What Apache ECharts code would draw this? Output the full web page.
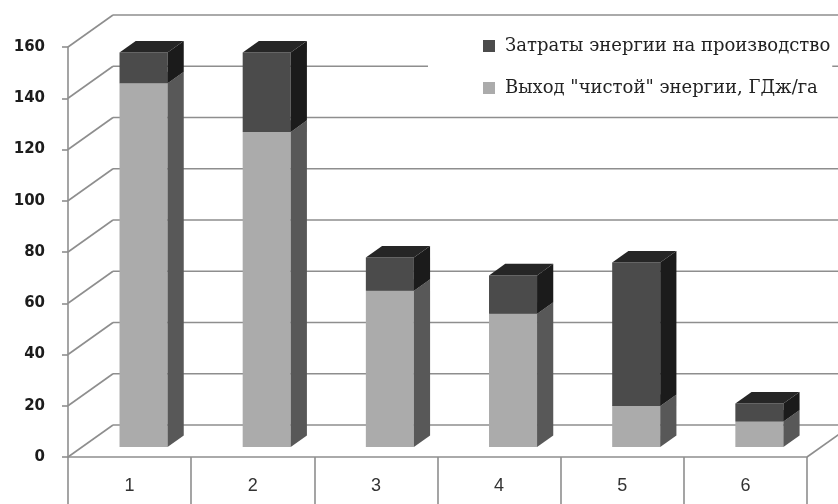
<!DOCTYPE html>
<html>
<head>
<meta charset="utf-8">
<script src="https://cdn.jsdelivr.net/npm/echarts@6/dist/echarts.min.js"></script>
<style>
  html, body { margin: 0; padding: 0; background: #fff; }
  #main { width: 838px; height: 504px; }
</style>
</head>
<body>
<div id="main"></div>
<script>
// данные
var categories = ['1', '2', '3', '4', '5', '6'];
var netOutput = [142, 123, 61, 52, 16, 10];   // Выход "чистой" энергии
var energyCost = [12, 31, 13, 15, 56, 7];     // Затраты энергии
var yTicks = [0, 20, 40, 60, 80, 100, 120, 140, 160];

var costName = 'Затраты энергии на производство';
var netName = 'Выход "чистой" энергии, ГДж/га';

// псевдо-3D: вектор глубины и положение столбика в глубине
var DEPTH = [45, -32];
var F0 = 0.31, F1 = 0.67;
var GRID_COLOR = '#8e8e8e';

var faces = {
  light: { front: '#ababab', side: '#585858', top: '#8a8a8a' },
  dark: { front: '#4b4b4b', side: '#1b1b1b', top: '#262626' }
};

function boxRenderer(face) {
  return function (params, api) {
    var i = api.value(0), lo = api.value(1), hi = api.value(2);
    var band = api.size([1, 0])[0];
    var pLo = api.coord([i, lo]), pHi = api.coord([i, hi]);
    var w = band * 0.39;
    var x0 = pLo[0] - w / 2 + DEPTH[0] * F0;
    var yLo = pLo[1] + DEPTH[1] * F0;
    var yHi = pHi[1] + DEPTH[1] * F0;
    var dx = DEPTH[0] * (F1 - F0), dy = DEPTH[1] * (F1 - F0);
    return {
      type: 'group',
      children: [
        { type: 'rect', shape: { x: x0, y: yHi, width: w, height: yLo - yHi }, style: { fill: face.front } },
        { type: 'polygon', shape: { points: [[x0 + w, yLo], [x0 + w + dx, yLo + dy], [x0 + w + dx, yHi + dy], [x0 + w, yHi]] }, style: { fill: face.side } },
        { type: 'polygon', shape: { points: [[x0, yHi], [x0 + w, yHi], [x0 + w + dx, yHi + dy], [x0 + dx, yHi + dy]] }, style: { fill: face.top } }
      ]
    };
  };
}

function wallRenderer(params, api) {
  var v = api.value(1);
  var band = api.size([1, 0])[0];
  var p = api.coord([0, v]);
  var xL = p[0] - band / 2, y = p[1];
  var xR = api.coord([categories.length - 1, v])[0] + band / 2;
  var st = { stroke: GRID_COLOR, lineWidth: 1.6 };
  var kids = [
    { type: 'line', shape: { x1: xL, y1: y, x2: xL + DEPTH[0], y2: y + DEPTH[1] }, style: st },
    { type: 'line', shape: { x1: xL + DEPTH[0], y1: y + DEPTH[1], x2: xR + DEPTH[0], y2: y + DEPTH[1] }, style: st }
  ];
  if (v === 0) {
    kids.push({ type: 'line', shape: { x1: xR, y1: y, x2: xR + DEPTH[0], y2: y + DEPTH[1] }, style: st });
  }
  return { type: 'group', children: kids };
}

var chart = echarts.init(document.getElementById('main'));

chart.setOption({
  animation: false,
  backgroundColor: '#fff',
  grid: { left: 68, right: 31, top: 47, bottom: 47 },
  legend: {
    orient: 'vertical',
    left: 428,
    top: 22,
    padding: [14, 2, 14, 55],
    backgroundColor: '#fff',
    itemWidth: 12,
    itemHeight: 12,
    itemGap: 22,
    icon: 'rect',
    data: [costName, netName],
    textStyle: { fontFamily: 'DejaVu Serif', fontSize: 18, color: '#222', padding: [0, 0, 0, 5], lineHeight: 20 }
  },
  xAxis: {
    type: 'category',
    data: categories,
    axisLine: { lineStyle: { color: GRID_COLOR, width: 1.6 } },
    axisTick: { show: true, length: 50, interval: 0, lineStyle: { color: GRID_COLOR, width: 1.6 } },
    axisLabel: { margin: 20, fontFamily: 'Liberation Sans', fontSize: 18, color: '#333' },
    splitLine: { show: false }
  },
  yAxis: {
    type: 'value',
    min: 0,
    max: 160,
    interval: 20,
    axisLine: { show: true, lineStyle: { color: GRID_COLOR, width: 1.6 } },
    axisTick: { show: true, length: 6, lineStyle: { color: GRID_COLOR, width: 1.6 } },
    axisLabel: { margin: 23, fontFamily: 'DejaVu Sans', fontWeight: 'bold', fontSize: 15, color: '#1c1c1c' },
    splitLine: { show: false }
  },
  series: [
    {
      name: 'walls',
      type: 'custom',
      z: 1,
      silent: true,
      clip: false,
      renderItem: wallRenderer,
      encode: { x: 0, y: 1 },
      data: yTicks.map(function (v) { return [0, v]; })
    },
    {
      name: netName,
      type: 'custom',
      z: 2,
      clip: false,
      itemStyle: { color: faces.light.front },
      renderItem: boxRenderer(faces.light),
      encode: { x: 0, y: [1, 2] },
      data: netOutput.map(function (v, i) { return [i, 0, v]; })
    },
    {
      name: costName,
      type: 'custom',
      z: 3,
      clip: false,
      itemStyle: { color: faces.dark.front },
      renderItem: boxRenderer(faces.dark),
      encode: { x: 0, y: [1, 2] },
      data: energyCost.map(function (v, i) { return [i, netOutput[i], netOutput[i] + v]; })
    }
  ]
});
</script>
</body>
</html>
